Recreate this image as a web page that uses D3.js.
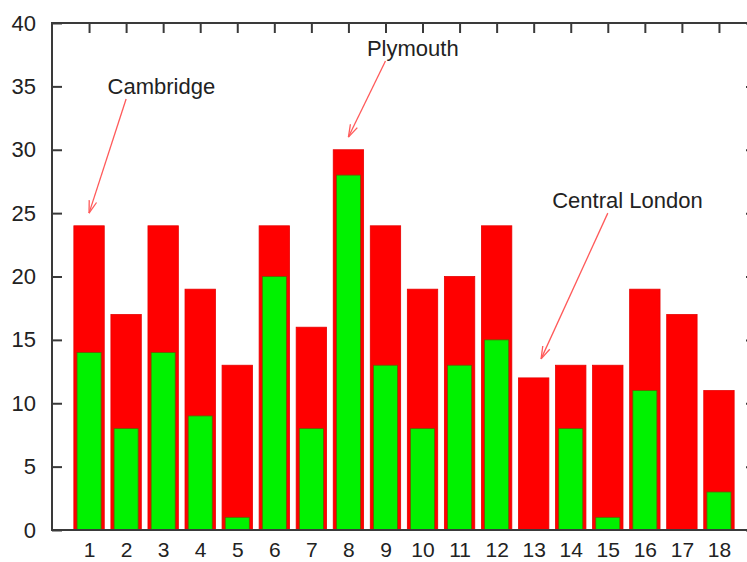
<!DOCTYPE html>
<html>
<head>
<meta charset="utf-8">
<script src="https://cdn.jsdelivr.net/npm/d3@7/dist/d3.min.js"></script>
<style>
  html, body { margin: 0; padding: 0; background: #fff; }
  svg { display: block; }
  text { font-family: "Liberation Sans", Arial, sans-serif; fill: #222; }
</style>
</head>
<body>
<svg id="chart" width="747" height="562"></svg>
<script>
// Sites 1..18: total and secondary counts
const sites = d3.range(1, 19);
const totals = [24, 17, 24, 19, 13, 24, 16, 30, 24, 19, 20, 24, 12, 13, 13, 19, 17, 11];
const inner = [14, 8, 14, 9, 1, 20, 8, 28, 13, 8, 13, 15, 0, 8, 1, 11, 0, 3];
const yTicks = [0, 5, 10, 15, 20, 25, 30, 35, 40];

// Labelled arrows: text position and arrow from/to, in data units
const labels = [
  { text: "Cambridge",      tx: 1.5,  ty: 35, from: [2, 34],  to: [1, 25] },
  { text: "Plymouth",       tx: 8.5,  ty: 38, from: [9, 37],  to: [8, 31] },
  { text: "Central London", tx: 13.5, ty: 26, from: [15, 25], to: [13.2, 13.5] }
];

const svg = d3.select("#chart");
const plotLeft = 52, plotTop = 23, plotBottom = 530, plotRight = 756;

const x = d3.scaleLinear().domain([0, 19]).range([plotLeft, plotRight]);
const y = d3.scaleLinear().domain([0, 40]).range([plotBottom, plotTop]);
const unit = x(1) - x(0);

const axisColor = "#3a3a3a";
const tickLen = 10;

// bottom ticks (drawn first so the bars sit on top of them)
svg.append("g")
  .attr("transform", `translate(0,${plotBottom})`)
  .call(d3.axisTop(x).tickValues(sites).tickSize(tickLen).tickFormat(""))
  .call(g => g.select(".domain").remove())
  .call(g => g.selectAll("line").attr("stroke", axisColor).attr("stroke-width", 2));

// bars
const bars = svg.append("g");
bars.selectAll("rect.total")
  .data(sites)
  .join("rect")
  .attr("class", "total")
  .attr("x", d => x(d) - unit * 0.41)
  .attr("width", unit * 0.82)
  .attr("y", (d, i) => y(totals[i]))
  .attr("height", (d, i) => y(0) - y(totals[i]))
  .attr("fill", "#ff0000")
  .attr("stroke", "#e80000")
  .attr("stroke-width", 0.8);

bars.selectAll("rect.inner")
  .data(sites.filter((d, i) => inner[i] > 0))
  .join("rect")
  .attr("class", "inner")
  .attr("x", d => x(d) - unit * 0.325)
  .attr("width", unit * 0.65)
  .attr("y", d => y(inner[d - 1]))
  .attr("height", d => y(0) - y(inner[d - 1]))
  .attr("fill", "#00f200")
  .attr("stroke", "#6a5a00")
  .attr("stroke-width", 0.8);

// left axis with labels
svg.append("g")
  .attr("transform", `translate(${plotLeft},0)`)
  .call(d3.axisLeft(y).tickValues(yTicks).tickSize(-tickLen).tickPadding(16))
  .call(g => g.select(".domain").remove())
  .call(g => g.selectAll("line").attr("stroke", axisColor).attr("stroke-width", 2))
  .call(g => g.selectAll("text")
    .attr("font-size", 22)
    .attr("font-family", "Liberation Sans, Arial, sans-serif")
    .attr("fill", "#222"));

// right mirror ticks
svg.append("g")
  .attr("transform", `translate(${plotRight},0)`)
  .call(d3.axisRight(y).tickValues(yTicks).tickSize(-tickLen).tickFormat(""))
  .call(g => g.select(".domain").remove())
  .call(g => g.selectAll("line").attr("stroke", axisColor).attr("stroke-width", 2));

// top mirror ticks
svg.append("g")
  .attr("transform", `translate(0,${plotTop})`)
  .call(d3.axisBottom(x).tickValues(sites).tickSize(tickLen).tickFormat(""))
  .call(g => g.select(".domain").remove())
  .call(g => g.selectAll("line").attr("stroke", axisColor).attr("stroke-width", 2));

// bottom labels
svg.append("g")
  .attr("transform", `translate(0,${plotBottom})`)
  .call(d3.axisBottom(x).tickValues(sites).tickSize(0).tickPadding(0))
  .call(g => g.select(".domain").remove())
  .call(g => g.selectAll("text")
    .attr("dy", null)
    .attr("y", 27)
    .attr("font-size", 21)
    .attr("font-family", "Liberation Sans, Arial, sans-serif")
    .attr("fill", "#222"));

// frame
svg.append("rect")
  .attr("x", plotLeft).attr("y", plotTop)
  .attr("width", plotRight - plotLeft).attr("height", plotBottom - plotTop)
  .attr("fill", "none")
  .attr("stroke", axisColor)
  .attr("stroke-width", 2);

// annotations
const ann = svg.append("g");
const arrowColor = "#ff5a5a";
labels.forEach(l => {
  ann.append("text")
    .attr("x", x(l.tx))
    .attr("y", y(l.ty))
    .attr("dy", "0.36em")
    .attr("font-size", 22)
    .text(l.text);
  const x0 = x(l.from[0]), y0 = y(l.from[1]);
  const x1 = x(l.to[0]), y1 = y(l.to[1]);
  ann.append("line")
    .attr("x1", x0).attr("y1", y0).attr("x2", x1).attr("y2", y1)
    .attr("stroke", arrowColor).attr("stroke-width", 1.3);
  const ang = Math.atan2(y1 - y0, x1 - x0);
  const hl = 13, spread = 0.3;
  [ang + Math.PI - spread, ang + Math.PI + spread].forEach(a => {
    ann.append("line")
      .attr("x1", x1).attr("y1", y1)
      .attr("x2", x1 + hl * Math.cos(a)).attr("y2", y1 + hl * Math.sin(a))
      .attr("stroke", arrowColor).attr("stroke-width", 1.3);
  });
});
</script>
</body>
</html>
